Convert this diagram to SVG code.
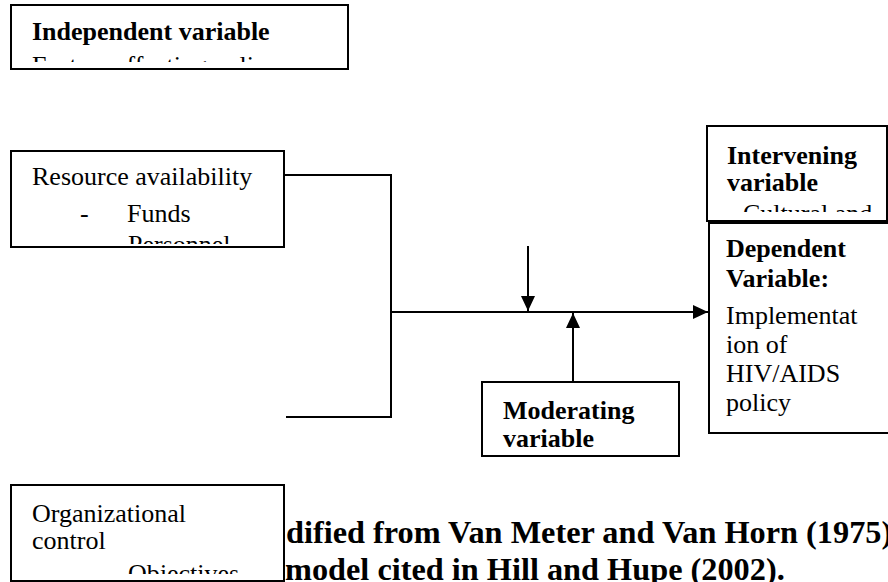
<svg xmlns="http://www.w3.org/2000/svg" width="888" height="582" viewBox="0 0 888 582">
  <style>
    .box { fill: #fff; stroke: #000; stroke-width: 2; }
    .t { font-family: "Liberation Serif", "Times New Roman", serif; font-size: 26px; fill: #000; }
    .b { font-weight: bold; }
    .cap { font-family: "Liberation Serif", "Times New Roman", serif; font-size: 32.3px; font-weight: bold; fill: #000; }
    .wire { fill: none; stroke: #000; stroke-width: 2; }
  </style>
  <defs>
    <marker id="head" viewBox="0 0 15 14" refX="15" refY="7" markerWidth="15" markerHeight="14" markerUnits="userSpaceOnUse" orient="auto">
      <path d="M0,0 L15,7 L0,14 Z" fill="#000"/>
    </marker>
    <clipPath id="clipIndep"><rect x="12" y="6" width="336" height="56"/></clipPath>
    <clipPath id="clipRes"><rect x="12" y="152" width="271" height="92"/></clipPath>
    <clipPath id="clipInterv"><rect x="708" y="127" width="180" height="85"/></clipPath>
    <clipPath id="clipDep"><rect x="710" y="224" width="178" height="208"/></clipPath>
    <clipPath id="clipMod"><rect x="483" y="383" width="195" height="67"/></clipPath>
    <clipPath id="clipOrg"><rect x="12" y="486" width="271" height="88"/></clipPath>
  </defs>

  <!-- caption text, partly covered by the organizational control box -->
  <g id="caption">
    <text class="cap" x="286" y="543">dified from Van Meter and Van Horn (1975)</text>
    <text class="cap" x="285" y="580">model cited in Hill and Hupe (2002).</text>
  </g>

  <!-- connectors -->
  <g id="connectors">
    <path class="wire" d="M284,175 H391 V417 H286"/>
    <path class="wire" d="M391,312 H708" marker-end="url(#head)"/>
    <path class="wire" d="M528,246 V311" marker-end="url(#head)"/>
    <path class="wire" d="M573,382 V313" marker-end="url(#head)"/>
  </g>

  <g id="independent">
    <rect class="box" x="11" y="5" width="337" height="64"/>
    <g clip-path="url(#clipIndep)">
      <text class="t b" x="32" y="40">Independent variable</text>
      <text class="t" x="32" y="74">Factors affecting policy</text>
    </g>
  </g>

  <g id="resource">
    <rect class="box" x="11" y="151" width="273" height="96"/>
    <g clip-path="url(#clipRes)">
      <text class="t" x="32" y="185">Resource availability</text>
      <text class="t" x="80" y="222">-</text>
      <text class="t" x="127" y="222">Funds</text>
      <text class="t" x="128" y="253">Personnel</text>
    </g>
  </g>

  <g id="intervening">
    <rect class="box" x="707" y="126" width="180" height="95"/>
    <g clip-path="url(#clipInterv)">
      <text class="t b" x="727" y="164">Intervening</text>
      <text class="t b" x="727" y="191">variable</text>
      <text class="t" x="743" y="222">Cultural and</text>
    </g>
  </g>

  <g id="dependent">
    <rect class="box" x="709" y="223" width="190" height="210"/>
    <g clip-path="url(#clipDep)">
      <text class="t b" x="726" y="257">Dependent</text>
      <text class="t b" x="726" y="287">Variable:</text>
      <text class="t" x="726" y="324">Implementat</text>
      <text class="t" x="726" y="353">ion of</text>
      <text class="t" x="726" y="382">HIV/AIDS</text>
      <text class="t" x="726" y="411">policy</text>
    </g>
  </g>

  <g id="moderating">
    <rect class="box" x="482" y="382" width="197" height="74"/>
    <g clip-path="url(#clipMod)">
      <text class="t b" x="503" y="419">Moderating</text>
      <text class="t b" x="503" y="447">variable</text>
    </g>
  </g>

  <g id="organizational">
    <rect class="box" x="11" y="485" width="273" height="96"/>
    <g clip-path="url(#clipOrg)">
      <text class="t" x="32" y="522">Organizational</text>
      <text class="t" x="32" y="549">control</text>
      <text class="t" x="128" y="582">Objectives</text>
    </g>
  </g>
</svg>
